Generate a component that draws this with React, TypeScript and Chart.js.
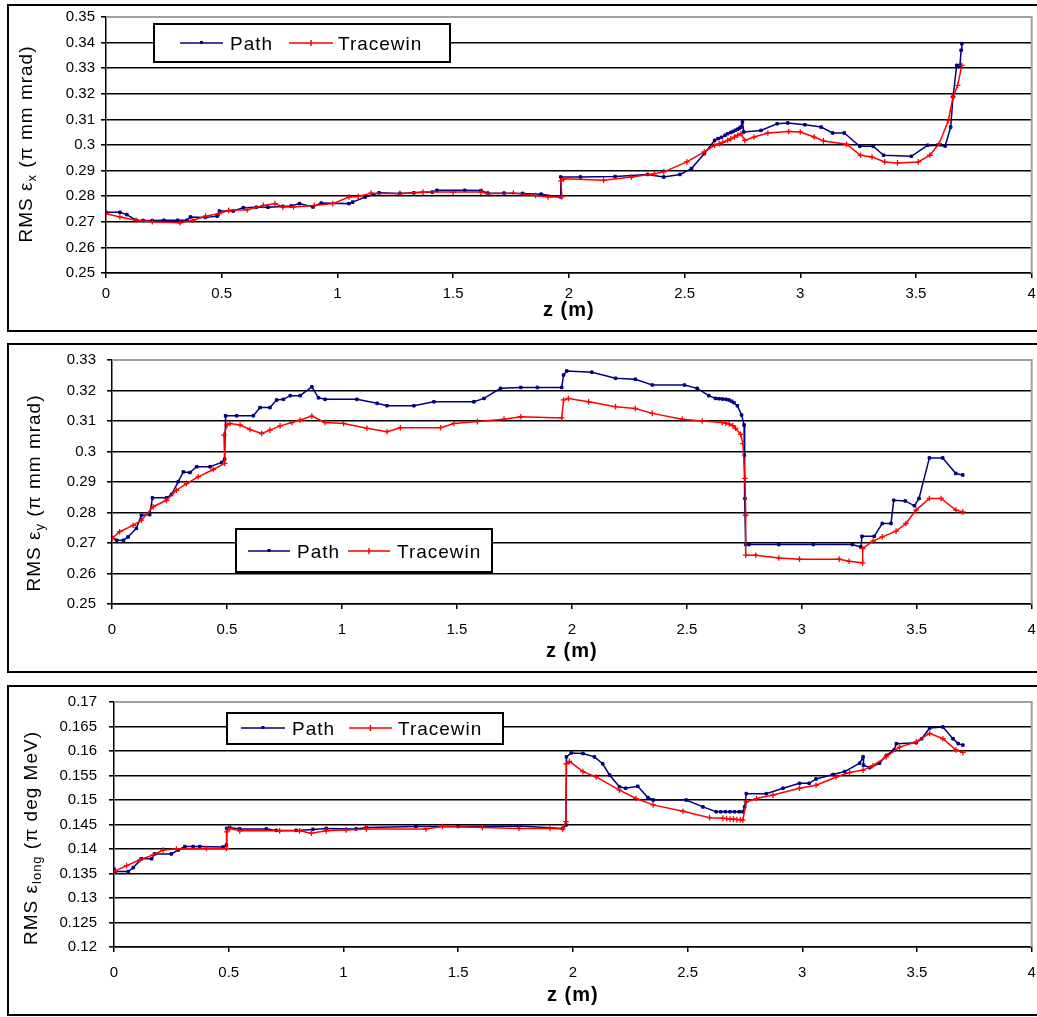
import React, { useEffect, useRef } from 'react';
import { Chart, registerables } from 'chart.js';

Chart.register(...registerables);

// ---------------- data ----------------
const seriesNames = ['Path', 'Tracewin'];

const xTicks = [0, 0.5, 1, 1.5, 2, 2.5, 3, 3.5, 4];
const yTicks1 = [0.25, 0.26, 0.27, 0.28, 0.29, 0.3, 0.31, 0.32, 0.33, 0.34, 0.35];
const yTicks2 = [0.25, 0.26, 0.27, 0.28, 0.29, 0.3, 0.31, 0.32, 0.33];
const yTicks3 = [0.12, 0.125, 0.13, 0.135, 0.14, 0.145, 0.15, 0.155, 0.16, 0.165, 0.17];

// Panel 1: RMS emittance x
const pathZ1 = [0, 0.06, 0.09, 0.13, 0.16, 0.2, 0.25, 0.31, 0.35, 0.365, 0.43, 0.48, 0.49, 0.55, 0.593, 0.65, 0.7, 0.764, 0.8, 0.836, 0.894, 0.93, 1.05, 1.066, 1.12, 1.18, 1.27, 1.33, 1.41, 1.43, 1.55, 1.62, 1.65, 1.72, 1.8, 1.88, 1.964, 1.965, 2.05, 2.2, 2.34, 2.41, 2.48, 2.53, 2.585, 2.63, 2.645, 2.66, 2.675, 2.686, 2.7, 2.71, 2.72, 2.73, 2.738, 2.744, 2.75, 2.756, 2.83, 2.9, 2.946, 3.02, 3.09, 3.14, 3.19, 3.257, 3.315, 3.36, 3.48, 3.55, 3.626, 3.65, 3.66, 3.676, 3.69, 3.695, 3.698];
const pathE1 = [0.2737, 0.2737, 0.2728, 0.2706, 0.2705, 0.2705, 0.2706, 0.2706, 0.2706, 0.2719, 0.2717, 0.2722, 0.2742, 0.2742, 0.2755, 0.2757, 0.2757, 0.276, 0.2762, 0.2771, 0.2758, 0.2773, 0.2771, 0.2777, 0.2797, 0.2813, 0.2811, 0.2813, 0.2816, 0.2823, 0.2823, 0.2822, 0.2812, 0.2812, 0.2811, 0.2808, 0.2797, 0.2875, 0.2875, 0.2877, 0.2885, 0.2875, 0.2885, 0.2908, 0.2966, 0.3018, 0.3025, 0.303, 0.3038, 0.3044, 0.3049, 0.3053, 0.3058, 0.3062, 0.3066, 0.307, 0.309, 0.3051, 0.3057, 0.3083, 0.3086, 0.3079, 0.307, 0.3047, 0.3047, 0.2995, 0.2995, 0.296, 0.2956, 0.2999, 0.2996, 0.307, 0.3188, 0.3311, 0.3311, 0.337, 0.3396];
const traceZ1 = [0, 0.06, 0.13, 0.2, 0.32, 0.376, 0.43, 0.49, 0.53, 0.61, 0.68, 0.73, 0.764, 0.81, 0.9, 0.98, 1.05, 1.09, 1.145, 1.27, 1.37, 1.5, 1.62, 1.65, 1.76, 1.856, 1.91, 1.97, 1.966, 1.978, 2.15, 2.27, 2.37, 2.41, 2.51, 2.585, 2.63, 2.65, 2.665, 2.686, 2.7, 2.715, 2.73, 2.744, 2.76, 2.8, 2.86, 2.95, 3.0, 3.06, 3.1, 3.2, 3.26, 3.31, 3.365, 3.42, 3.51, 3.56, 3.6, 3.64, 3.66, 3.68, 3.698];
const traceE1 = [0.2732, 0.2719, 0.2706, 0.27, 0.2696, 0.2706, 0.2722, 0.2732, 0.2745, 0.2747, 0.2764, 0.2771, 0.2758, 0.2758, 0.2764, 0.2771, 0.2797, 0.2799, 0.2812, 0.281, 0.2816, 0.2816, 0.2816, 0.281, 0.2812, 0.2803, 0.2797, 0.2797, 0.286, 0.2868, 0.2862, 0.2875, 0.2888, 0.2895, 0.2934, 0.2973, 0.2999, 0.3005, 0.301, 0.3018, 0.3024, 0.3031, 0.3038, 0.3044, 0.3018, 0.3031, 0.3047, 0.3053, 0.3051, 0.3031, 0.3016, 0.3003, 0.296, 0.2953, 0.2934, 0.293, 0.2934, 0.296, 0.3005, 0.3096, 0.3188, 0.3233, 0.3311];

// Panel 2: RMS emittance y
const pathZ2 = [0, 0.02, 0.05, 0.07, 0.106, 0.128, 0.164, 0.176, 0.237, 0.259, 0.288, 0.31, 0.339, 0.368, 0.426, 0.477, 0.49, 0.494, 0.542, 0.615, 0.644, 0.687, 0.716, 0.746, 0.775, 0.818, 0.869, 0.898, 0.927, 1.065, 1.153, 1.196, 1.313, 1.4, 1.574, 1.618, 1.69, 1.778, 1.85, 1.956, 1.964, 1.978, 2.087, 2.19, 2.276, 2.35, 2.49, 2.545, 2.596, 2.625, 2.64, 2.655, 2.67, 2.683, 2.695, 2.705, 2.72, 2.738, 2.749, 2.75, 2.753, 2.756, 2.77, 2.9, 3.05, 3.22, 3.257, 3.262, 3.315, 3.35, 3.388, 3.4, 3.45, 3.49, 3.51, 3.555, 3.613, 3.67, 3.7];
const pathE2 = [0.2718, 0.2709, 0.2709, 0.272, 0.2748, 0.2791, 0.2793, 0.2848, 0.2848, 0.2859, 0.2901, 0.2933, 0.2931, 0.295, 0.295, 0.2964, 0.2975, 0.3117, 0.3117, 0.3117, 0.3144, 0.3144, 0.3169, 0.3171, 0.3183, 0.3183, 0.3212, 0.3176, 0.3171, 0.3171, 0.3158, 0.315, 0.315, 0.3163, 0.3163, 0.3174, 0.3207, 0.321, 0.321, 0.321, 0.3251, 0.3264, 0.326, 0.324, 0.3237, 0.3218, 0.3218, 0.3207, 0.3183, 0.3174, 0.3173, 0.3172, 0.3171, 0.3169, 0.3165, 0.316, 0.315, 0.312, 0.3087, 0.2988, 0.2846, 0.2695, 0.2695, 0.2695, 0.2695, 0.2695, 0.2687, 0.2722, 0.2722, 0.2764, 0.2764, 0.284, 0.2838, 0.2822, 0.2846, 0.2979, 0.2979, 0.2928, 0.2923];
const traceZ2 = [0, 0.033, 0.092, 0.128, 0.179, 0.237, 0.28, 0.324, 0.375, 0.44, 0.49, 0.487, 0.5, 0.513, 0.557, 0.6, 0.651, 0.687, 0.731, 0.782, 0.818, 0.869, 0.927, 1.007, 1.109, 1.196, 1.254, 1.429, 1.487, 1.589, 1.705, 1.778, 1.956, 1.964, 1.985, 2.073, 2.19, 2.276, 2.35, 2.48, 2.567, 2.654, 2.67, 2.685, 2.7, 2.712, 2.734, 2.744, 2.753, 2.756, 2.756, 2.8, 2.9, 2.99, 3.163, 3.206, 3.265, 3.265, 3.31, 3.35, 3.41, 3.453, 3.497, 3.555, 3.606, 3.67, 3.7];
const traceE2 = [0.2715, 0.2737, 0.2758, 0.2775, 0.2819, 0.284, 0.2873, 0.2895, 0.2917, 0.2941, 0.2961, 0.3054, 0.3087, 0.3092, 0.3087, 0.3072, 0.3059, 0.307, 0.3084, 0.3095, 0.3103, 0.3116, 0.3095, 0.3092, 0.3076, 0.3065, 0.3078, 0.3078, 0.3092, 0.3098, 0.3106, 0.3114, 0.311, 0.3169, 0.3174, 0.3163, 0.3147, 0.3141, 0.3125, 0.3106, 0.31, 0.3095, 0.3093, 0.309, 0.3085, 0.3076, 0.3056, 0.3026, 0.2912, 0.2791, 0.266, 0.266, 0.2651, 0.2647, 0.2647, 0.264, 0.2635, 0.2682, 0.2706, 0.272, 0.2739, 0.2764, 0.2808, 0.2846, 0.2846, 0.2808, 0.2802];

// Panel 3: RMS longitudinal emittance
const pathZ3 = [0, 0.005, 0.062, 0.084, 0.12, 0.164, 0.178, 0.25, 0.28, 0.309, 0.345, 0.374, 0.475, 0.49, 0.491, 0.504, 0.548, 0.664, 0.707, 0.794, 0.867, 0.925, 1.055, 1.1, 1.316, 1.5, 1.765, 1.956, 1.97, 1.972, 1.993, 2.044, 2.094, 2.13, 2.16, 2.203, 2.23, 2.283, 2.327, 2.35, 2.494, 2.567, 2.625, 2.645, 2.665, 2.685, 2.705, 2.725, 2.741, 2.749, 2.756, 2.843, 2.916, 2.988, 3.03, 3.06, 3.134, 3.185, 3.25, 3.265, 3.267, 3.294, 3.337, 3.366, 3.4, 3.41, 3.497, 3.52, 3.555, 3.613, 3.657, 3.68, 3.7];
const pathE3 = [0.1359, 0.1354, 0.1354, 0.1362, 0.138, 0.138, 0.139, 0.139, 0.1398, 0.1405, 0.1405, 0.1405, 0.1404, 0.1408, 0.1442, 0.1444, 0.1441, 0.1441, 0.1438, 0.1438, 0.144, 0.1442, 0.1441, 0.1444, 0.1446, 0.1446, 0.1447, 0.1442, 0.1449, 0.1588, 0.1596, 0.1595, 0.1588, 0.1574, 0.1551, 0.1527, 0.1524, 0.1528, 0.1505, 0.15, 0.15, 0.1486, 0.1476, 0.1476, 0.1476, 0.1476, 0.1476, 0.1476, 0.1476, 0.1486, 0.1513, 0.1513, 0.1524, 0.1534, 0.1534, 0.1543, 0.1552, 0.1558, 0.1575, 0.1588, 0.1571, 0.1566, 0.1575, 0.1591, 0.1602, 0.1615, 0.1617, 0.1625, 0.1647, 0.1649, 0.1625, 0.1615, 0.1612];
const traceZ3 = [0, 0.055, 0.113, 0.171, 0.214, 0.272, 0.403, 0.49, 0.491, 0.504, 0.548, 0.722, 0.809, 0.86, 0.925, 1.012, 1.1, 1.36, 1.432, 1.606, 1.765, 1.9, 1.956, 1.97, 1.972, 1.985, 2.044, 2.102, 2.203, 2.276, 2.35, 2.48, 2.596, 2.654, 2.67, 2.685, 2.7, 2.715, 2.73, 2.741, 2.756, 2.8, 2.872, 2.988, 3.06, 3.148, 3.206, 3.265, 3.308, 3.366, 3.424, 3.497, 3.555, 3.613, 3.67, 3.7];
const traceE3 = [0.1354, 0.1366, 0.1378, 0.1388, 0.1398, 0.14, 0.1401, 0.1401, 0.1435, 0.1442, 0.1437, 0.1437, 0.1437, 0.1432, 0.1437, 0.1439, 0.1441, 0.1441, 0.1446, 0.1444, 0.1442, 0.1442, 0.1441, 0.1456, 0.1574, 0.1579, 0.1558, 0.1547, 0.152, 0.1503, 0.149, 0.1477, 0.1464, 0.1463, 0.1462, 0.1461, 0.1461, 0.146, 0.146, 0.1459, 0.1496, 0.1503, 0.151, 0.1524, 0.153, 0.1547, 0.1556, 0.1561, 0.157, 0.1588, 0.1608, 0.1619, 0.1636, 0.1625, 0.1602, 0.1597];

const yTitle1 = [{ t: 'RMS ε', s: false }, { t: 'x', s: true }, { t: ' (π mm mrad)', s: false }];
const yTitle2 = [{ t: 'RMS ε', s: false }, { t: 'y', s: true }, { t: ' (π mm mrad)', s: false }];
const yTitle3 = [{ t: 'RMS ε', s: false }, { t: 'long', s: true }, { t: ' (π deg MeV)', s: false }];
const xTitle = 'z (m)';

// ---------------- styling / layout ----------------
const FONT = '"Liberation Sans", Arial, Helvetica, sans-serif';
const NAVY = '#000080';
const RED = '#ff0000';
const W = 1037;

const panels = [
  {
    canvasTop: 0, canvasHeight: 335, plotLeft: 106, plotTop: 17, plotBottom: 273,
    yPad: 6, xPad: 7, yMin: 0.25, yMax: 0.35, yTicks: yTicks1, title: yTitle1,
    titleX: 32, titleY: 144, xTitleY: 310,
    box: { top: 4, height: 328 },
    legend: { x1: 154, y1: 24, x2: 450, y2: 62, row: 43, l1: [180, 223], t1: 230, l2: [289, 333], t2: 338 },
    pz: pathZ1, pe: pathE1, tz: traceZ1, te: traceE1,
  },
  {
    canvasTop: 335, canvasHeight: 340, plotLeft: 112, plotTop: 360, plotBottom: 604,
    yPad: 11, xPad: 12, yMin: 0.25, yMax: 0.33, yTicks: yTicks2, title: yTitle2,
    titleX: 40, titleY: 493, xTitleY: 651,
    box: { top: 343, height: 330 },
    legend: { x1: 236, y1: 529, x2: 492, y2: 572, row: 551, l1: [248, 290], t1: 297, l2: [348, 390], t2: 397 },
    pz: pathZ2, pe: pathE2, tz: traceZ2, te: traceE2,
  },
  {
    canvasTop: 675, canvasHeight: 342, plotLeft: 114, plotTop: 702, plotBottom: 947,
    yPad: 12, xPad: 12, yMin: 0.12, yMax: 0.17, yTicks: yTicks3, title: yTitle3,
    titleX: 37, titleY: 838, xTitleY: 995,
    box: { top: 685, height: 331 },
    legend: { x1: 227, y1: 713, x2: 503, y2: 744, row: 728, l1: [241, 285], t1: 292, l2: [349, 392], t2: 398 },
    pz: pathZ3, pe: pathE3, tz: traceZ3, te: traceE3,
  },
];

const pts = (xs: number[], ys: number[]) => {
  const n = Math.min(xs.length, ys.length);
  const out: { x: number; y: number }[] = [];
  for (let i = 0; i < n; i++) out.push({ x: xs[i], y: ys[i] });
  return out;
};

const setLS = (ctx: any, v: string) => {
  if ('letterSpacing' in ctx) ctx.letterSpacing = v;
};

function makeDecor(cfg: any) {
  return {
    id: 'decor' + cfg.canvasTop,
    beforeDatasetsDraw(chart: any) {
      const { ctx, chartArea: a } = chart;
      ctx.save();
      ctx.strokeStyle = '#a0a0a0';
      ctx.lineWidth = 2;
      ctx.beginPath();
      ctx.moveTo(a.left, a.top);
      ctx.lineTo(a.right, a.top);
      ctx.lineTo(a.right, a.bottom);
      ctx.stroke();
      ctx.restore();
    },
    afterDraw(chart: any) {
      const { ctx, chartArea: a } = chart;
      const oy = cfg.canvasTop;
      ctx.save();
      ctx.fillStyle = '#000';

      // y axis title (rotated, with subscript)
      ctx.save();
      ctx.translate(cfg.titleX, cfg.titleY - oy);
      ctx.rotate(-Math.PI / 2);
      ctx.textAlign = 'left';
      ctx.textBaseline = 'alphabetic';
      const widths = cfg.title.map((p: any) => {
        ctx.font = (p.s ? '13px ' : '19px ') + FONT;
        setLS(ctx, '1px');
        return ctx.measureText(p.t).width;
      });
      const total = widths.reduce((s: number, w: number) => s + w, 0);
      let x = -total / 2;
      cfg.title.forEach((p: any, i: number) => {
        ctx.font = (p.s ? '13px ' : '19px ') + FONT;
        setLS(ctx, '1px');
        ctx.fillText(p.t, x, p.s ? 4 : 0);
        x += widths[i];
      });
      ctx.restore();

      // x axis title
      ctx.font = 'bold 20px ' + FONT;
      setLS(ctx, '1px');
      ctx.textAlign = 'center';
      ctx.textBaseline = 'middle';
      ctx.fillText(xTitle, (a.left + a.right) / 2, cfg.xTitleY - oy);

      // legend
      const L = cfg.legend;
      ctx.fillStyle = '#fff';
      ctx.fillRect(L.x1, L.y1 - oy, L.x2 - L.x1, L.y2 - L.y1);
      ctx.strokeStyle = '#000';
      ctx.lineWidth = 2;
      ctx.strokeRect(L.x1, L.y1 - oy, L.x2 - L.x1, L.y2 - L.y1);
      const ry = L.row - oy;
      // Path sample
      ctx.strokeStyle = NAVY;
      ctx.lineWidth = 1.5;
      ctx.beginPath();
      ctx.moveTo(L.l1[0], ry);
      ctx.lineTo(L.l1[1], ry);
      ctx.stroke();
      ctx.fillStyle = NAVY;
      const m1 = (L.l1[0] + L.l1[1]) / 2;
      ctx.fillRect(m1 - 1.5, ry - 2, 3, 3);
      // Tracewin sample
      ctx.strokeStyle = RED;
      ctx.beginPath();
      ctx.moveTo(L.l2[0], ry);
      ctx.lineTo(L.l2[1], ry);
      const m2 = (L.l2[0] + L.l2[1]) / 2;
      ctx.moveTo(m2, ry - 3);
      ctx.lineTo(m2, ry + 3);
      ctx.stroke();
      // texts
      ctx.fillStyle = '#000';
      ctx.font = '19px ' + FONT;
      setLS(ctx, '1px');
      ctx.textAlign = 'left';
      ctx.textBaseline = 'alphabetic';
      ctx.fillText(chart.data.datasets[0].label, L.t1, ry + 7);
      ctx.fillText(chart.data.datasets[1].label, L.t2, ry + 7);
      setLS(ctx, '0px');
      ctx.restore();
    },
  };
}

function Panel({ cfg }: { cfg: any }) {
  const ref = useRef<HTMLCanvasElement>(null);
  useEffect(() => {
    if (!ref.current) return;
    const plotTopC = cfg.plotTop - cfg.canvasTop;
    const plotBottomC = cfg.plotBottom - cfg.canvasTop;
    const yAxisW = 75;
    const xAxisH = 40;
    const chart = new Chart(ref.current, {
      type: 'scatter',
      data: {
        datasets: [
          {
            label: seriesNames[0],
            data: pts(cfg.pz, cfg.pe),
            showLine: true,
            borderColor: NAVY,
            backgroundColor: NAVY,
            borderWidth: 1.5,
            pointStyle: 'rect',
            pointRadius: 1.8,
            pointBorderWidth: 1,
            pointBorderColor: NAVY,
            pointBackgroundColor: NAVY,
            tension: 0,
            order: 1,
          },
          {
            label: seriesNames[1],
            data: pts(cfg.tz, cfg.te),
            showLine: true,
            borderColor: RED,
            backgroundColor: RED,
            borderWidth: 1.5,
            pointStyle: 'cross',
            pointRadius: 2.8,
            pointBorderWidth: 1.3,
            pointBorderColor: RED,
            tension: 0,
            order: 0,
          },
        ],
      },
      options: {
        animation: false,
        responsive: false,
        events: [],
        layout: {
          padding: {
            left: cfg.plotLeft - yAxisW,
            top: plotTopC,
            right: W - 1033,
            bottom: cfg.canvasHeight - plotBottomC - xAxisH,
          },
        },
        plugins: { legend: { display: false }, tooltip: { enabled: false } },
        scales: {
          x: {
            type: 'linear',
            min: 0,
            max: 4,
            afterBuildTicks: (s: any) => {
              s.ticks = xTicks.map((v) => ({ value: v }));
            },
            afterFit: (s: any) => {
              s.height = xAxisH;
              s.paddingLeft = 0;
              s.paddingRight = 0;
            },
            ticks: {
              callback: (v: any) => String(v),
              font: { family: FONT, size: 15 },
              color: '#000',
              padding: cfg.xPad,
              maxRotation: 0,
              autoSkip: false,
            },
            grid: { drawOnChartArea: false, drawTicks: true, tickLength: 5, tickColor: '#000', color: '#000', lineWidth: 1.5 },
            border: { display: true, color: '#000', width: 1.5 },
          },
          y: {
            type: 'linear',
            min: cfg.yMin,
            max: cfg.yMax,
            afterBuildTicks: (s: any) => {
              s.ticks = cfg.yTicks.map((v: number) => ({ value: v }));
            },
            afterFit: (s: any) => {
              s.width = yAxisW;
              s.paddingTop = 0;
              s.paddingBottom = 0;
            },
            ticks: {
              callback: (v: any) => String(v),
              font: { family: FONT, size: 15 },
              color: '#000',
              padding: cfg.yPad,
              autoSkip: false,
            },
            grid: {
              drawTicks: true,
              tickLength: 5,
              tickColor: '#000',
              lineWidth: 1.6,
              color: (c: any) => (c.tick && Math.abs(c.tick.value - cfg.yMax) < 1e-9 ? 'rgba(0,0,0,0)' : '#000'),
            },
            border: { display: true, color: '#000', width: 1.5 },
          },
        },
      },
      plugins: [makeDecor(cfg)],
    } as any);
    return () => chart.destroy();
  }, [cfg]);
  return (
    <canvas
      ref={ref}
      width={W}
      height={cfg.canvasHeight}
      style={{ position: 'absolute', left: 0, top: cfg.canvasTop, width: W, height: cfg.canvasHeight }}
    />
  );
}

export default function App() {
  return (
    <div
      style={{
        position: 'absolute',
        left: 0,
        top: 0,
        width: W,
        height: 1017,
        overflow: 'hidden',
        background: '#fff',
      }}
    >
      {panels.map((p, i) => (
        <div
          key={'b' + i}
          style={{
            position: 'absolute',
            left: 7,
            top: p.box.top,
            width: 1045,
            height: p.box.height,
            border: '2px solid #000',
            boxSizing: 'border-box',
          }}
        />
      ))}
      {panels.map((p, i) => (
        <Panel key={'p' + i} cfg={p} />
      ))}
    </div>
  );
}
